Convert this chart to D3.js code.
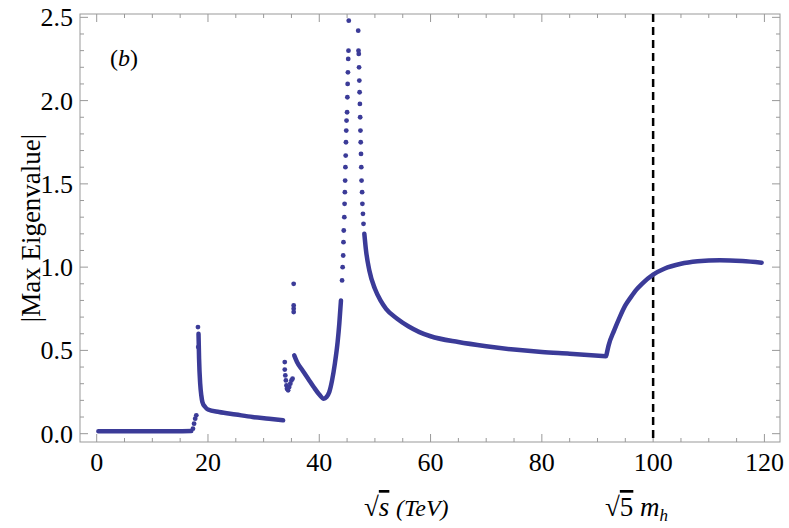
<!DOCTYPE html>
<html><head><meta charset="utf-8">
<script src="https://cdn.jsdelivr.net/npm/d3@7"></script>
<style>body{margin:0;background:#fff}</style>
</head><body><svg id="c" width="789" height="528"></svg>
<script>
// continuous branches (dense dots in the original)
const flatBranch = [[0.3,0.015],[5,0.015],[10,0.015],[15,0.015],[17,0.016]];
const secondBranch = [[18.3,0.6],[18.4,0.45],[18.6,0.3],[18.8,0.23],[19,0.19],[19.5,0.16],[20,0.145],[22,0.13],[25,0.115],[28,0.1],[31,0.09],[33.5,0.08]];
const dipBranch = [[35.5,0.47],[36,0.43],[37,0.38],[38,0.33],[39,0.28],[40,0.235],[40.8,0.21],[41.3,0.22],[41.8,0.25],[42.3,0.32],[42.8,0.42],[43.3,0.55],[43.6,0.66],[43.9,0.8]];
const tailBranch = [[48.1,1.2],[48.4,1.1],[49,0.98],[50,0.87],[51,0.8],[52,0.75],[54,0.69],[56,0.645],[58,0.61],[60,0.585],[65,0.55],[70,0.525],[75,0.505],[80,0.49],[85,0.48],[91.5,0.465]];
const riseBranch = [[91.6,0.47],[92,0.53],[93,0.62],[94,0.7],[95,0.77],[96,0.82],[97,0.865],[98,0.9],[100,0.955],[102,0.99],[105,1.02],[108,1.035],[112,1.042],[116,1.037],[119.5,1.027]];
// sparse dots
const sparseDots = [[17.3,0.03],[17.5,0.06],[17.7,0.09],[17.9,0.11],[18.2,0.64],[18.25,0.52],
  [33.8,0.43],[33.8,0.385],[33.9,0.35],[34,0.32],[34.1,0.29],[34.2,0.27],[34.4,0.26],[34.6,0.28],[34.8,0.3],[35,0.32],[35.2,0.33],
  [35.4,0.9],[35.4,0.77],[35.4,0.75],[35.4,0.73],
  [44.1,0.92],[44.2,1.0],[44.3,1.07],[44.35,1.15],[44.4,1.22],[44.5,1.3],[44.55,1.38],[44.6,1.45],[44.65,1.52],[44.7,1.6],[44.75,1.67],[44.8,1.75],[44.85,1.82],[44.9,1.88],[45,1.93],[45.05,2.02],[45.1,2.1],[45.15,2.17],[45.2,2.25],[45.25,2.3],[45.3,2.48],
  [47.0,2.42],[47.05,2.3],[47.1,2.28],[47.15,2.2],[47.2,2.12],[47.25,2.05],[47.3,1.98],[47.35,1.9],[47.4,1.82],[47.45,1.75],[47.5,1.68],[47.55,1.6],[47.6,1.52],[47.7,1.45],[47.75,1.38],[47.85,1.32],[47.95,1.26]];
const xTicks = [0,20,40,60,80,100,120];
const yTicks = [0,0.5,1.0,1.5,2.0,2.5];
const markX = 100;

const FONT = '"Liberation Serif","Times New Roman","DejaVu Serif",serif';
const svg = d3.select("#c").style("font-family", FONT);
const col = "#3b3b98";
const x = d3.scaleLinear().domain([-3,122.8]).range([80,780]);
const y = d3.scaleLinear().domain([-0.05,2.52]).range([442,14]);

// frame
svg.append("rect").attr("x",80).attr("y",14).attr("width",700).attr("height",428)
  .attr("fill","none").attr("stroke","#999").attr("stroke-width",1);

const g = svg.append("g").attr("stroke","#999");
d3.range(0,122,5).forEach(v => {
  const L = v % 20 === 0 ? 8 : 4;
  g.append("line").attr("x1",x(v)).attr("x2",x(v)).attr("y1",442).attr("y2",442-L);
  g.append("line").attr("x1",x(v)).attr("x2",x(v)).attr("y1",14).attr("y2",14+L);
});
d3.range(0,26).forEach(i => {
  const v = i/10, L = i % 5 === 0 ? 8 : 4;
  g.append("line").attr("y1",y(v)).attr("y2",y(v)).attr("x1",80).attr("x2",80+L);
  g.append("line").attr("y1",y(v)).attr("y2",y(v)).attr("x1",780).attr("x2",780-L);
});

svg.selectAll(".xl").data(xTicks).enter().append("text").attr("font-family",FONT)
  .attr("x",d=>x(d)).attr("y",471).attr("text-anchor","middle").attr("font-size",26).text(d=>d);
svg.selectAll(".yl").data(yTicks).enter().append("text").attr("font-family",FONT)
  .attr("x",73).attr("y",d=>y(d)+9).attr("text-anchor","end").attr("font-size",26).text(d=>d.toFixed(1));

// dashed marker
svg.append("line").attr("x1",x(markX)).attr("x2",x(markX)).attr("y1",14).attr("y2",442)
  .attr("stroke","#000").attr("stroke-width",2.5).attr("stroke-dasharray","8,5");

const line = d3.line().x(d=>x(d[0])).y(d=>y(d[1])).curve(d3.curveMonotoneX);
[flatBranch, secondBranch, dipBranch, tailBranch, riseBranch].forEach(b => {
  svg.append("path").attr("d",line(b)).attr("fill","none").attr("stroke",col)
    .attr("stroke-width",4.5).attr("stroke-linecap","round");
});
svg.selectAll(".dot").data(sparseDots).enter().append("circle")
  .attr("cx",d=>x(d[0])).attr("cy",d=>y(d[1])).attr("r",2.4).attr("fill",col);

// labels
svg.append("text").attr("font-family",FONT).attr("x",110).attr("y",66).attr("font-size",24)
  .html('(<tspan font-style="italic">b</tspan>)');
svg.append("text").attr("font-family",FONT).attr("transform","translate(40,228) rotate(-90)").attr("text-anchor","middle")
  .attr("font-size",27).text("|Max Eigenvalue|");
svg.append("text").attr("font-family",FONT).attr("x",364).attr("y",516).attr("font-size",27)
  .html('√<tspan text-decoration="overline" font-style="italic">s</tspan>  <tspan font-style="italic" font-size="24">(TeV)</tspan>');
svg.append("text").attr("font-family",FONT).attr("x",605).attr("y",516).attr("font-size",27)
  .html('√<tspan text-decoration="overline">5</tspan><tspan font-style="italic"> m</tspan><tspan font-style="italic" font-size="17" dy="5">h</tspan>');
</script></body></html>
